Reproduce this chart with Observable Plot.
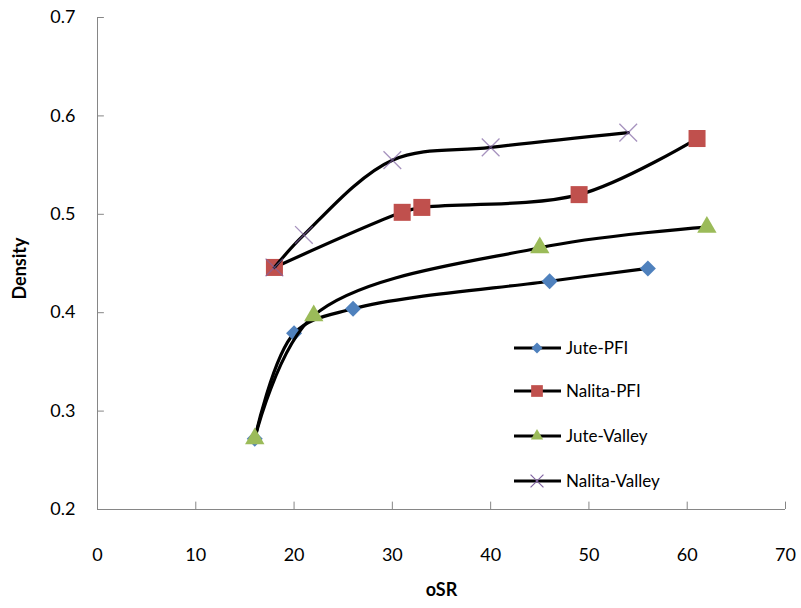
<!DOCTYPE html>
<html>
<head>
<meta charset="utf-8">
<script src="https://cdn.jsdelivr.net/npm/d3@7"></script>
<script src="https://cdn.jsdelivr.net/npm/@observablehq/plot@0.6"></script>
<style>
  html, body { margin: 0; padding: 0; background: #fff; }
  #wrap { position: relative; width: 801px; height: 608px; }
  #legend { position: absolute; left: 0; top: 0; }
</style>
</head>
<body>
<div id="wrap"></div>
<script>
// ---- data ----
const seriesNames = ["Jute-PFI", "Nalita-PFI", "Jute-Valley", "Nalita-Valley"];
const jutePFI_x = [16, 20, 26, 46, 56];
const jutePFI_y = [0.272, 0.379, 0.404, 0.432, 0.445];
const nalitaPFI_x = [18, 31, 33, 49, 61];
const nalitaPFI_y = [0.446, 0.502, 0.507, 0.520, 0.577];
const juteValley_x = [16, 22, 45, 62];
const juteValley_y = [0.272, 0.397, 0.466, 0.487];
const nalitaValley_x = [18, 21, 30, 40, 54];
const nalitaValley_y = [0.446, 0.479, 0.555, 0.568, 0.583];
const xTicks = [0, 10, 20, 30, 40, 50, 60, 70];
const yTicks = [0.2, 0.3, 0.4, 0.5, 0.6, 0.7];

const seriesX = [jutePFI_x, nalitaPFI_x, juteValley_x, nalitaValley_x];
const seriesY = [jutePFI_y, nalitaPFI_y, juteValley_y, nalitaValley_y];
const symbols = ["diamond2", "square", "triangle", "times"];
const colors = ["#4F81BD", "#C0504D", "#9BBB59", "#8064A2"];
const radii = [7.2, 9.6, 7.2, 8.1];

const series = seriesNames.map((name, i) =>
  seriesX[i].map((x, j) => ({series: name, x, y: seriesY[i][j]})));

const font = "Lato, 'Open Sans', sans-serif";

const marks = [];
// axis lines
marks.push(Plot.ruleY([0.2], {stroke: "#868686", strokeWidth: 1}));
marks.push(Plot.ruleX([0], {stroke: "#868686", strokeWidth: 1}));
// inward tick marks
marks.push(Plot.ruleX(xTicks, {y1: 0.2, y2: 0.2075, stroke: "#868686"}));
marks.push(Plot.ruleY(yTicks, {x1: 0, x2: 0.7, stroke: "#868686"}));
// series
series.forEach((d, i) => {
  marks.push(Plot.line(d, {x: "x", y: "y", stroke: "black", strokeWidth: 3.2, curve: "catmull-rom"}));
  if (symbols[i] === "times") {
    marks.push(Plot.dot(d, {x: "x", y: "y", symbol: "times", r: radii[i], stroke: colors[i], strokeWidth: 1.3, strokeOpacity: 0.7}));
  } else {
    marks.push(Plot.dot(d, {x: "x", y: "y", symbol: symbols[i], r: radii[i], fill: colors[i], stroke: "none"}));
  }
});
// axes labels
marks.push(Plot.axisX(xTicks, {tickSize: 0, tickPadding: 39, label: null, fontSize: 18, tickFormat: d => String(d)}));
marks.push(Plot.axisY(yTicks, {tickSize: 0, tickPadding: 22, label: null, fontSize: 18, tickFormat: d => d.toFixed(1)}));
marks.push(Plot.text(["oSR"], {frameAnchor: "bottom", dy: 86, fontSize: 18, fontWeight: "bold", fill: "black"}));
marks.push(Plot.text(["Density"], {frameAnchor: "left", dx: -77, dy: 36, rotate: -90, fontSize: 18, fontWeight: "bold", fill: "black"}));

const chart = Plot.plot({
  width: 801,
  height: 608,
  marginLeft: 97,
  marginRight: 16,
  marginTop: 17,
  marginBottom: 99,
  x: {domain: [0, 70]},
  y: {domain: [0.2, 0.7]},
  style: {fontFamily: font, color: "black", background: "white", overflow: "visible"},
  marks
});
document.getElementById("wrap").appendChild(chart);

// legend (overlay)
const leg = d3.select("#wrap").append("svg")
  .attr("id", "legend").attr("width", 801).attr("height", 608)
  .style("font-family", font);
const rowY = [348, 391, 436, 481];
const legSizes = [77, 137, 65, 110];
seriesNames.forEach((name, i) => {
  const g = leg.append("g").attr("transform", `translate(0,${rowY[i]})`);
  g.append("line").attr("x1", 514).attr("x2", 561).attr("y1", 0).attr("y2", 0)
    .attr("stroke", "black").attr("stroke-width", 3);
  const sym = {diamond2: d3.symbolDiamond2, square: d3.symbolSquare, triangle: d3.symbolTriangle, times: d3.symbolTimes}[symbols[i]];
  const p = g.append("path").attr("transform", "translate(537,0)")
    .attr("d", d3.symbol(sym, legSizes[i])());
  if (symbols[i] === "times") p.attr("fill", "none").attr("stroke", colors[i]).attr("stroke-width", 1.2);
  else p.attr("fill", colors[i]);
  g.append("text").attr("x", 566).attr("y", 0).attr("dy", "0.35em")
    .attr("font-size", 17).attr("fill", "black").text(name);
});
</script>
</body>
</html>
